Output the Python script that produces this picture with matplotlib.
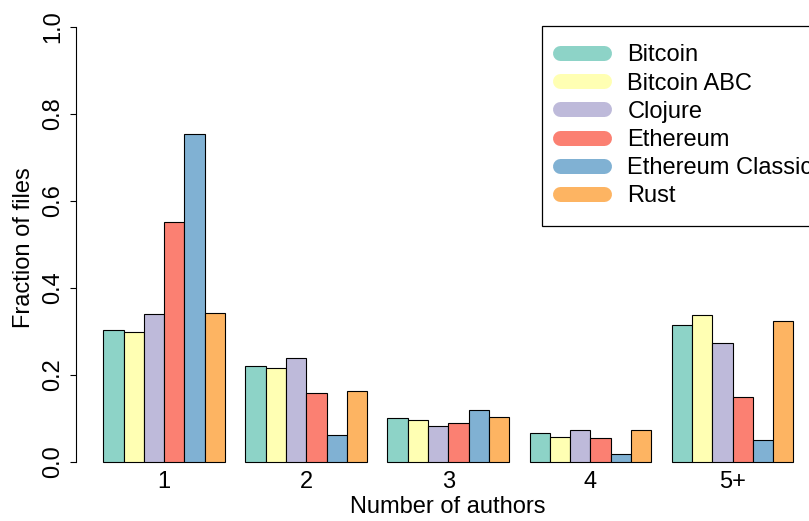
import matplotlib
matplotlib.use("Agg")
import matplotlib.pyplot as plt
from matplotlib.lines import Line2D

# data
groups = ["1", "2", "3", "4", "5+"]
projects = ["Bitcoin", "Bitcoin ABC", "Clojure", "Ethereum", "Ethereum Classic", "Rust"]
colors = ["#8DD3C7", "#FFFFB3", "#BEBADA", "#FB8072", "#80B1D3", "#FDB462"]

bitcoin = [0.302, 0.220, 0.100, 0.065, 0.314]
bitcoin_abc = [0.298, 0.215, 0.095, 0.057, 0.337]
clojure = [0.338, 0.237, 0.082, 0.072, 0.273]
ethereum = [0.550, 0.158, 0.089, 0.055, 0.149]
ethereum_classic = [0.754, 0.060, 0.118, 0.018, 0.050]
rust = [0.341, 0.163, 0.102, 0.073, 0.324]
series = [bitcoin, bitcoin_abc, clojure, ethereum, ethereum_classic, rust]

plt.rcParams["font.family"] = ["Liberation Sans", "DejaVu Sans"]
fs = 17

fig = plt.figure(figsize=(8.09, 5.21), dpi=100)
# plot region like R's barplot (4% extended axes)
W, H = 809, 521
left, right = 75.7, 821.0
top, bottom = 9.1, 478.9
ax = fig.add_axes([left / W, 1 - bottom / H, (right - left) / W, (bottom - top) / H])

nser = len(series)
for s, vals in enumerate(series):
    xs = [1 + g * (nser + 1) + s + 0.5 for g in range(len(groups))]
    ax.bar(xs, vals, width=1.0, color=colors[s], edgecolor="black", linewidth=0.8)

xmin, xmax = 1, len(groups) * (nser + 1)
ext = (xmax - xmin) * 0.04
ax.set_xlim(xmin - ext, xmax + ext)
ax.set_ylim(-0.04, 1.04)

for sp in ["top", "right", "bottom"]:
    ax.spines[sp].set_visible(False)
ax.spines["left"].set_bounds(0, 1)
ax.spines["left"].set_linewidth(0.8)

yt = [0.0, 0.2, 0.4, 0.6, 0.8, 1.0]
ax.set_yticks(yt)
ax.set_yticklabels([f"{v:.1f}" for v in yt], rotation=90, va="center", fontsize=fs)
ax.tick_params(axis="y", length=4.5, width=0.8, pad=3.8)

ax.set_xticks([])
for g, name in enumerate(groups):
    cx = 1 + g * (nser + 1) + nser / 2
    ax.text(cx, -0.022, name, ha="center", va="top", fontsize=fs, clip_on=False)

fig.text(448 / W, (H - 513) / H, "Number of authors", ha="center", va="baseline", fontsize=fs)
fig.text(24 / W, (H - 247.5) / H, "Fraction of files", ha="center", va="center",
         rotation=90, fontsize=fs)

handles = [Line2D([], [], color=c, linewidth=10.8, solid_capstyle="round") for c in colors]
leg = ax.legend(handles, projects, loc="upper left",
                bbox_to_anchor=(541.7 / W, 1 - 26 / H), bbox_transform=fig.transFigure,
                fontsize=fs, frameon=True, fancybox=False, framealpha=1,
                borderpad=0.78, labelspacing=0.26, handlelength=1.85, handletextpad=1.0,
                borderaxespad=0)
leg.get_frame().set_edgecolor("black")
leg.get_frame().set_linewidth(0.9)

fig.savefig("out.png", dpi=100)
